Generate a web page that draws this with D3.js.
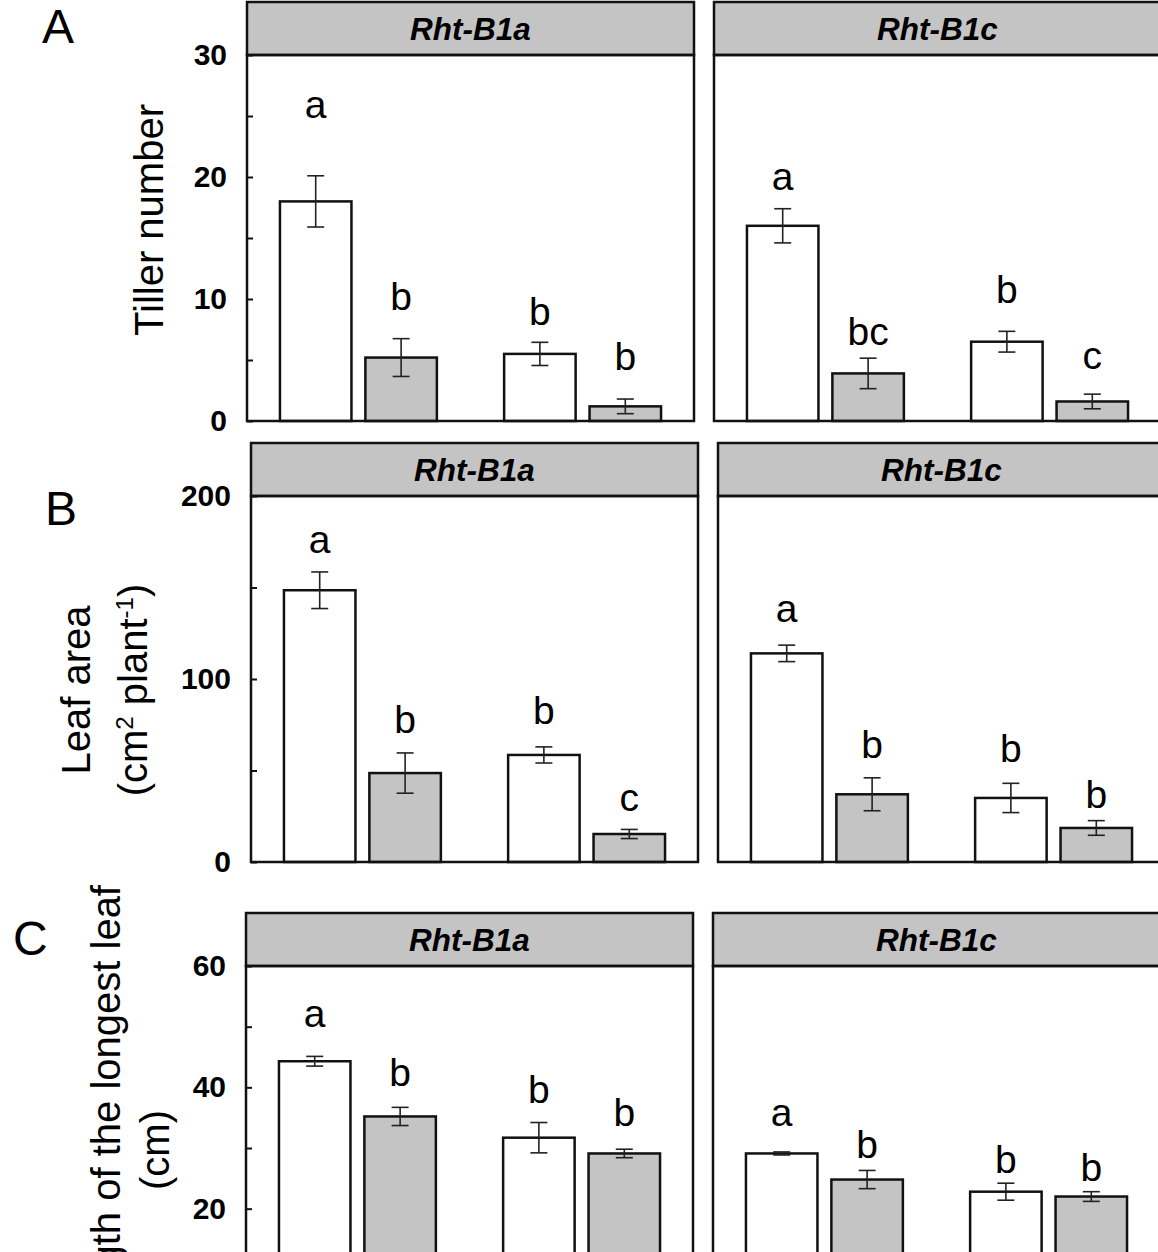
<!DOCTYPE html>
<html lang="en">
<head>
    <meta charset="UTF-8">
    <title>Tiller number, leaf area and longest leaf</title>
    <script src="https://d3js.org/d3.v7.min.js"></script>
    <style>
        body { margin: 0; background: #fff; }
        text { font-family: Arial, "Liberation Sans", sans-serif; }
    </style>
</head>
<body>
    <div id="chart"></div>

    <script>
        // Facets and bar order (white / grey bar in two groups)
        const genotypes = ["Rht-B1a", "Rht-B1c"];
        const groups = ["g1", "g2"];
        const treatments = ["white", "grey"];

        // A - tiller number (rows = genotype)
        const tillerMean = [[18.0, 5.2, 5.5, 1.2], [16.0, 3.9, 6.5, 1.6]];
        const tillerErr = [[2.1, 1.55, 0.95, 0.6], [1.4, 1.25, 0.85, 0.6]];
        const tillerLetters = [["a", "b", "b", "b"], ["a", "bc", "b", "c"]];
        const tillerLetterAt = [[24.8, 9.1, 7.9, 4.2], [18.9, 6.2, 9.7, 4.3]];

        // B - leaf area (cm2 plant-1)
        const areaMean = [[148.5, 48.6, 58.5, 15.3], [114, 37, 35, 18.6]];
        const areaErr = [[10, 11, 4.4, 2.5], [4.5, 9, 8, 4]];
        const areaLetters = [["a", "b", "b", "c"], ["a", "b", "b", "b"]];
        const areaLetterAt = [[169, 70.5, 75.4, 27.9], [131, 57, 54.6, 29.5]];

        // C - length of the longest leaf (cm)
        const leafMean = [[44.3, 35.2, 31.7, 29.1], [29.1, 24.8, 22.8, 22.0]];
        const leafErr = [[0.8, 1.5, 2.5, 0.7], [0.25, 1.5, 1.4, 0.8]];
        const leafLetters = [["a", "b", "b", "b"], ["a", "b", "b", "b"]];
        const leafLetterAt = [[49.9, 40.2, 37.5, 33.7], [33.7, 28.4, 25.8, 24.5]];

        const yMaxes = [30, 200, 60];
        const tickSteps = [5, 50, 10];

        const panels = [
            { mean: tillerMean, err: tillerErr, letters: tillerLetters, letterAt: tillerLetterAt },
            { mean: areaMean, err: areaErr, letters: areaLetters, letterAt: areaLetterAt },
            { mean: leafMean, err: leafErr, letters: leafLetters, letterAt: leafLetterAt }
        ];

        // layout of the three rows
        const rows = [
            { left: 247, top: 2, plotH: 366 },
            { left: 251, top: 443, plotH: 366 },
            { left: 246, top: 913, plotH: 364 }
        ];
        const facetW = 447, facetGap = 20, stripH = 53;
        const grey = "#c4c4c4";

        const svg = d3.select("#chart")
            .append("svg")
            .attr("width", 1158)
            .attr("height", 1252);

        const xGroup = d3.scaleBand()
            .domain(groups)
            .range([0, facetW])
            .paddingInner(0.3)
            .paddingOuter(0.147);

        const xBar = d3.scaleBand()
            .domain(treatments)
            .range([0, xGroup.bandwidth()])
            .paddingInner(0.163);

        panels.forEach((p, r) => {
            const row = rows[r];
            const yMax = yMaxes[r];
            const step = tickSteps[r];

            genotypes.forEach((gen, f) => {
                const g = svg.append("g")
                    .attr("transform", `translate(${row.left + f * (facetW + facetGap)},${row.top})`);

                const y = d3.scaleLinear()
                    .domain([0, yMax])
                    .range([stripH + row.plotH, stripH]);

                // strip
                g.append("rect")
                    .attr("width", facetW)
                    .attr("height", stripH)
                    .attr("fill", grey)
                    .attr("stroke", "#111")
                    .attr("stroke-width", 2.5);

                g.append("text")
                    .attr("x", facetW / 2)
                    .attr("y", stripH / 2 + 11)
                    .attr("text-anchor", "middle")
                    .attr("font-size", 31.5)
                    .attr("font-weight", "bold")
                    .attr("font-style", "italic")
                    .text(gen);

                // y axis only on the left facet
                if (f === 0) {
                    const ticks = d3.range(0, yMax + step / 2, step)
                        .filter(v => row.top + y(v) < 1240);
                    const axis = d3.axisLeft(y)
                        .tickValues(ticks)
                        .tickSizeInner(-6)
                        .tickSizeOuter(0)
                        .tickPadding(20)
                        .tickFormat(d => (d % (2 * step) === 0 ? d : ""));
                    const ax = g.append("g").call(axis);
                    ax.select(".domain").remove();
                    ax.selectAll(".tick line").attr("stroke", "#111").attr("stroke-width", 2);
                    ax.selectAll(".tick text")
                        .attr("font-size", 30)
                        .attr("font-weight", "bold")
                        .attr("font-family", "Arial, 'Liberation Sans', sans-serif")
                        .attr("fill", "#000");
                }

                const idx = d3.range(p.mean[f].length);
                const bx = i => xGroup(groups[Math.floor(i / 2)]) + xBar(treatments[i % 2]);
                const bw = xBar.bandwidth();

                // bars
                g.selectAll(".bar")
                    .data(idx)
                    .join("rect")
                    .attr("class", "bar")
                    .attr("x", bx)
                    .attr("y", i => y(p.mean[f][i]))
                    .attr("width", bw)
                    .attr("height", i => y(0) - y(p.mean[f][i]))
                    .attr("fill", i => (i % 2 === 0 ? "#fff" : grey))
                    .attr("stroke", "#111")
                    .attr("stroke-width", 2.5);

                // error bars
                const eb = g.selectAll(".err")
                    .data(idx)
                    .join("g")
                    .attr("class", "err")
                    .attr("stroke", "#222")
                    .attr("stroke-width", 1.6);
                eb.append("line")
                    .attr("x1", i => bx(i) + bw / 2)
                    .attr("x2", i => bx(i) + bw / 2)
                    .attr("y1", i => y(p.mean[f][i] + p.err[f][i]))
                    .attr("y2", i => y(p.mean[f][i] - p.err[f][i]));
                [1, -1].forEach(s => {
                    eb.append("line")
                        .attr("x1", i => bx(i) + bw / 2 - 8.5)
                        .attr("x2", i => bx(i) + bw / 2 + 8.5)
                        .attr("y1", i => y(p.mean[f][i] + s * p.err[f][i]))
                        .attr("y2", i => y(p.mean[f][i] + s * p.err[f][i]));
                });

                // significance letters
                g.selectAll(".letter")
                    .data(idx)
                    .join("text")
                    .attr("class", "letter")
                    .attr("x", i => bx(i) + bw / 2)
                    .attr("y", i => y(p.letterAt[f][i]))
                    .attr("text-anchor", "middle")
                    .attr("font-size", 39)
                    .text(i => p.letters[f][i]);

                // plot frame
                g.append("rect")
                    .attr("y", stripH)
                    .attr("width", facetW)
                    .attr("height", row.plotH)
                    .attr("fill", "none")
                    .attr("stroke", "#111")
                    .attr("stroke-width", 2.5);
            });
        });

        // panel letters
        const panelLetters = [["A", 42, 43], ["B", 45, 525], ["C", 13, 955]];
        svg.selectAll(".panel")
            .data(panelLetters)
            .join("text")
            .attr("class", "panel")
            .attr("x", d => d[1])
            .attr("y", d => d[2])
            .attr("font-size", 48)
            .text(d => d[0]);

        // y axis titles (rotated)
        function vtitle(x, y, anchor) {
            return svg.append("text")
                .attr("transform", `translate(${x},${y}) rotate(-90)`)
                .attr("text-anchor", anchor)
                .attr("font-size", 40);
        }

        vtitle(163, 220, "middle").text("Tiller number");

        vtitle(90, 690, "middle").text("Leaf area");
        const t2 = vtitle(147, 690, "middle");
        t2.append("tspan").text("(cm");
        t2.append("tspan").attr("dy", -14).attr("font-size", 24).text("2");
        t2.append("tspan").attr("dy", 14).text(" plant");
        t2.append("tspan").attr("dy", -14).attr("font-size", 24).text("-1");
        t2.append("tspan").attr("dy", 14).text(")");

        vtitle(120, 885, "end").text("Length of the longest leaf");
        vtitle(169, 1150, "middle").text("(cm)");
    </script>
</body>
</html>
